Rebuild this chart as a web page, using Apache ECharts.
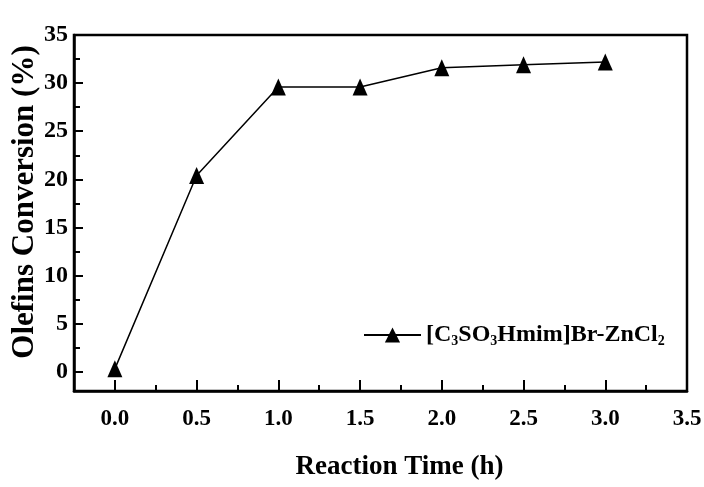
<!DOCTYPE html>
<html lang="en">
<head>
  <meta charset="UTF-8">
  <title>Olefins Conversion</title>
  <script src="https://cdn.jsdelivr.net/npm/echarts@6/dist/echarts.min.js"></script>
</head>
<body style="margin:0">
  <div id="app" style="width: 704px; height: 487px;"></div>
  <script>
    // data
    var timeArr = [0.0, 0.5, 1.0, 1.5, 2.0, 2.5, 3.0]
    var convArr = [0.3, 20.4, 29.6, 29.6, 31.6, 31.9, 32.2]
    var xTicks = [0, 0.5, 1.0, 1.5, 2.0, 2.5, 3.0, 3.5]
    var xMinor = [0.25, 0.75, 1.25, 1.75, 2.25, 2.75, 3.25]
    var yTicks = [0, 5, 10, 15, 20, 25, 30, 35]
    var yMinor = [2.5, 7.5, 12.5, 17.5, 22.5, 27.5, 32.5]
    var seriesName = '[C3SO3Hmim]Br-ZnCl2'

    var font = 'Liberation Serif'
    var ink = '#000'
    var mCharts = echarts.init(document.querySelector('#app'))

    var pts = timeArr.map(function (t, i) { return [t, convArr[i]] })

    // extra axes only carry tick marks
    function tickAxis(pos, min, max, vals, len) {
      return {
        type: 'value', min: min, max: max, position: pos,
        axisLine: { show: false, onZero: false },
        axisTick: { show: true, inside: true, length: len, customValues: vals, lineStyle: { color: ink, width: 2 } },
        axisLabel: { show: false },
        splitLine: { show: false }
      }
    }

    var option = {
      backgroundColor: '#fff',
      animation: false,
      grid: {
        left: 74, top: 35, right: 17, bottom: 96,
        outerBoundsMode: 'none',
        show: true, borderColor: ink, borderWidth: 2.5, backgroundColor: 'transparent'
      },
      legend: {
        left: 363, top: 323, padding: 0,
        itemWidth: 57, itemHeight: 19, itemGap: 8,
        formatter: function () {
          return '[C{sub|3}SO{sub|3}Hmim]Br-ZnCl{sub|2}'
        },
        textStyle: {
          fontFamily: font, fontWeight: 'bold', fontSize: 24, color: ink,
          rich: {
            sub: { fontFamily: font, fontWeight: 'bold', fontSize: 14, color: ink, verticalAlign: 'bottom', padding: [12, 0, 0, 0] }
          }
        },
        data: [seriesName]
      },
      xAxis: [
        {
          type: 'value', min: -0.25, max: 3.5,
          name: 'Reaction Time (h)', nameLocation: 'middle', nameGap: 63,
          nameMoveOverlap: false,
          nameTextStyle: { fontFamily: font, fontWeight: 'bold', fontSize: 27, color: ink, padding: [0, 0, 0, 38] },
          axisLine: { show: true, onZero: false, lineStyle: { color: ink, width: 2.5 } },
          axisTick: { show: false },
          axisLabel: {
            customValues: xTicks, margin: 17,
            fontFamily: font, fontWeight: 'bold', fontSize: 23, color: ink,
            formatter: function (v) { return v.toFixed(1) }
          },
          splitLine: { show: false }
        },
        tickAxis('bottom', -0.25, 3.5, xTicks, 11),
        tickAxis('bottom', -0.25, 3.5, xMinor, 6)
      ],
      yAxis: [
        {
          type: 'value', min: -2, max: 35,
          name: 'Olefins Conversion (%)', nameLocation: 'middle', nameGap: 34,
          nameMoveOverlap: false,
          nameTextStyle: { fontFamily: font, fontWeight: 'bold', fontSize: 31, color: ink, padding: [0, 0, 0, 22] },
          axisLine: { show: true, onZero: false, lineStyle: { color: ink, width: 2.5 } },
          axisTick: { show: false },
          axisLabel: {
            customValues: yTicks, margin: 6,
            fontFamily: font, fontWeight: 'bold', fontSize: 24, color: ink
          },
          splitLine: { show: false }
        },
        tickAxis('left', -2, 35, yTicks, 9),
        tickAxis('left', -2, 35, yMinor, 6)
      ],
      series: [
        {
          name: seriesName,
          type: 'line',
          data: pts,
          symbol: 'triangle',
          symbolSize: [15, 17],
          itemStyle: { color: ink },
          lineStyle: { color: ink, width: 1.5 }
        }
      ]
    }
    mCharts.setOption(option)
  </script>
</body>
</html>
